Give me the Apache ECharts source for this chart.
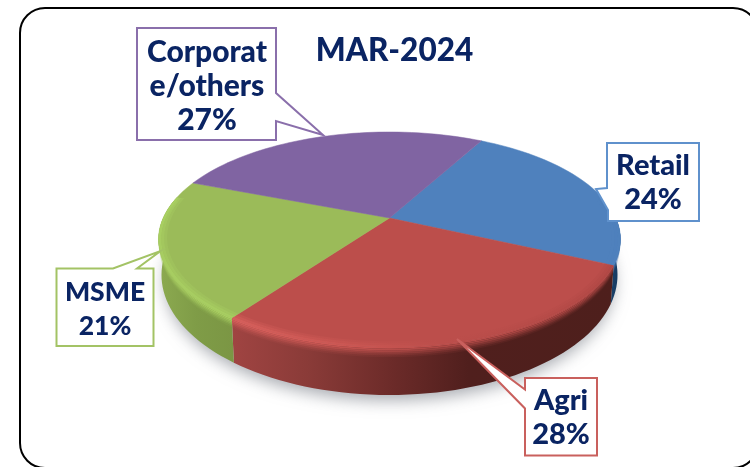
<!DOCTYPE html>
<html>
<head>
<meta charset="utf-8">
<script src="https://cdn.jsdelivr.net/npm/echarts@6/dist/echarts.min.js"></script>
<style>
html, body { margin: 0; padding: 0; background: #fff; }
#container { width: 750px; height: 467px; }
</style>
</head>
<body>
<div id="container"></div>
<script>
var categories = ["Retail", "Agri", "MSME", "Corporate/others"];
var shares = [24, 28, 21, 27];
var labelLines = [["Retail"], ["Agri"], ["MSME"], ["Corporat", "e/others"]];
var titleText = "MAR-2024";

var topColors = ["#4f81bd", "#bc4e4b", "#9bbb59", "#8064a2"];
var boxColors = ["#5f91cc", "#c9605d", "#a3c365", "#8a6fab"];
var navy = "#0a2463";
var fontName = "Lato, 'Noto Sans', sans-serif";
var startAngle = -61.5;
var total = shares.reduce(function (a, b) { return a + b; }, 0);

// perspective of the pie disc: top face and the lower rim
var topFace = { cx: 389.5, cy: 218, a: 103.2, b: 226.3 };
var lowFace = { cx: 389.5, cy: 251, a: 115.2, b: 223.4 };
var k = 0.2;

function project(face, deg, r) {
  var t = deg * Math.PI / 180;
  var u = Math.cos(t) * r;
  var v = Math.sin(t) * r;
  var w = 1 - k * v;
  return [face.cx + face.b * u / w, face.cy + face.a * v / w];
}

function mix(p, q, f) {
  return [p[0] + (q[0] - p[0]) * f, p[1] + (q[1] - p[1]) * f];
}

function arc(from, to, fn) {
  var pts = [];
  var n = Math.max(2, Math.ceil(Math.abs(to - from) / 2));
  for (var i = 0; i <= n; i++) pts.push(fn(from + (to - from) * i / n));
  return pts;
}

function grad(stops) {
  return {
    type: "linear", x: 0, y: 0, x2: 1, y2: 0,
    colorStops: stops.map(function (s) { return { offset: s[0], color: s[1] }; })
  };
}

var wallFill = [
  grad([[0, "#1d4a78"], [1, "#16395e"]]),
  grad([[0, "#a04442"], [0.2, "#8a3b38"], [0.42, "#6c2b29"], [0.62, "#501f1d"], [1, "#4e1f1c"]]),
  grad([[0, "#8caa50"], [0.5, "#7f9c47"], [1, "#7b9644"]]),
  "#8064a2"
];
var bandFill = [
  "#4f81bd",
  grad([[0, "#d8605c"], [0.3, "#cc5753"], [0.55, "#bc4e4b"], [1, "#b04744"]]),
  "#a9cf62",
  "#8064a2"
];
// soft edge of the bevel: strips fade out on both sides of the rim
var wallStrips = [1, 0.85, 0.65, 0.45, 0.25, 0.1];
var faceStrips = [0.9, 0.6, 0.3];

function renderSlice(params, api) {
  var idx = params.dataIndex;
  var before = 0;
  for (var i = 0; i < idx; i++) before += shares[i];
  var from = startAngle + before / total * 360;
  var to = from + api.value(0) / total * 360;
  var children = [];

  var top = [[topFace.cx, topFace.cy]].concat(arc(from, to, function (d) { return project(topFace, d, 1); }));
  children.push({
    type: "polygon",
    z2: 1,
    shape: { points: top },
    style: { fill: topColors[idx], stroke: topColors[idx], lineWidth: 0.5 }
  });

  // only the front of the disc shows a wall
  var a = Math.max(from, -12);
  var b = Math.min(to, 192);
  if (b > a) {
    var rimTop = arc(a, b, function (d) { return project(topFace, d, 1); });
    var rimLow = arc(a, b, function (d) { return project(lowFace, d, 1); });
    children.push({
      type: "polygon",
      shape: { points: rimTop.concat(rimLow.slice().reverse()) },
      style: { fill: wallFill[idx] }
    });
    wallStrips.forEach(function (op, s) {
      var p0 = rimTop.map(function (p, j) { return mix(p, rimLow[j], s * 0.035); });
      var p1 = rimTop.map(function (p, j) { return mix(p, rimLow[j], (s + 1) * 0.035); });
      children.push({
        type: "polygon",
        z2: 2,
        shape: { points: p0.concat(p1.reverse()) },
        style: { fill: bandFill[idx], opacity: op }
      });
    });
    faceStrips.forEach(function (op, s) {
      var r0 = 1 - s * 0.012;
      var r1 = 1 - (s + 1) * 0.012;
      var p0 = arc(a, b, function (d) { return project(topFace, d, r0); });
      var p1 = arc(a, b, function (d) { return project(topFace, d, r1); });
      children.push({
        type: "polygon",
        z2: 2,
        shape: { points: p0.concat(p1.reverse()) },
        style: { fill: bandFill[idx], opacity: op }
      });
    });
  }
  return { type: "group", children: children };
}

function renderShadow() {
  var pts = arc(0, 360, function (d) { return project(lowFace, d, 0.985); });
  return {
    type: "polygon",
    shape: { points: pts },
    style: { fill: "#cfd2d6", shadowBlur: 16, shadowColor: "rgba(110,115,125,0.6)", shadowOffsetY: 8 }
  };
}

function callout(points, color) {
  return {
    type: "polygon",
    z: 20,
    shape: { points: points },
    style: { fill: "#fff", stroke: color, lineWidth: 2 }
  };
}

function labelText(i, x, y, size) {
  var lines = labelLines[i].concat([shares[i] + "%"]);
  return {
    type: "text",
    z: 21,
    x: x,
    y: y,
    style: {
      text: lines.join("\n"),
      font: "900 " + size + "px " + fontName,
      lineHeight: 34,
      fill: navy,
      align: "center",
      verticalAlign: "middle"
    }
  };
}

var frame = {
  type: "rect",
  z: 0,
  shape: { x: 20, y: 8, width: 738, height: 460, r: 25 },
  style: { fill: "#fff", stroke: "#000", lineWidth: 2 }
};

var graphics = [
  frame,
  callout([[137, 28], [276, 28], [276, 93], [323, 135], [276, 121], [276, 140], [137, 140]], boxColors[3]),
  callout([[607, 143], [699, 143], [699, 221], [608, 221], [608, 210], [596, 189], [607, 188]], boxColors[0]),
  callout([[56.5, 268.5], [113, 268.5], [160.5, 251], [137, 268.5], [153.5, 268.5], [153.5, 346], [56.5, 346]], boxColors[2]),
  callout([[525, 378], [597, 378], [597, 455.5], [525, 455.5], [525, 408.5], [457, 339], [525, 389.5]], boxColors[1]),
  labelText(3, 207, 86, 30),
  labelText(0, 653, 183, 29),
  labelText(2, 105, 309, 26.5),
  labelText(1, 561, 418, 29)
];

var myChart = echarts.init(document.getElementById("container"));
var option = {
  animation: false,
  backgroundColor: "#fff",
  title: {
    text: titleText,
    left: 389.5,
    top: 46,
    textAlign: "center",
    textVerticalAlign: "middle",
    textStyle: { color: navy, fontFamily: fontName, fontWeight: 900, fontSize: 31.5 },
    z: 22
  },
  graphic: graphics,
  series: [
    { type: "custom", coordinateSystem: "none", z: 5, silent: true, data: [0], renderItem: renderShadow },
    {
      type: "custom",
      coordinateSystem: "none",
      z: 6,
      name: titleText,
      data: categories.map(function (c, i) { return { name: c, value: [shares[i]] }; }),
      renderItem: renderSlice
    }
  ]
};
option && myChart.setOption(option);
</script>
</body>
</html>
